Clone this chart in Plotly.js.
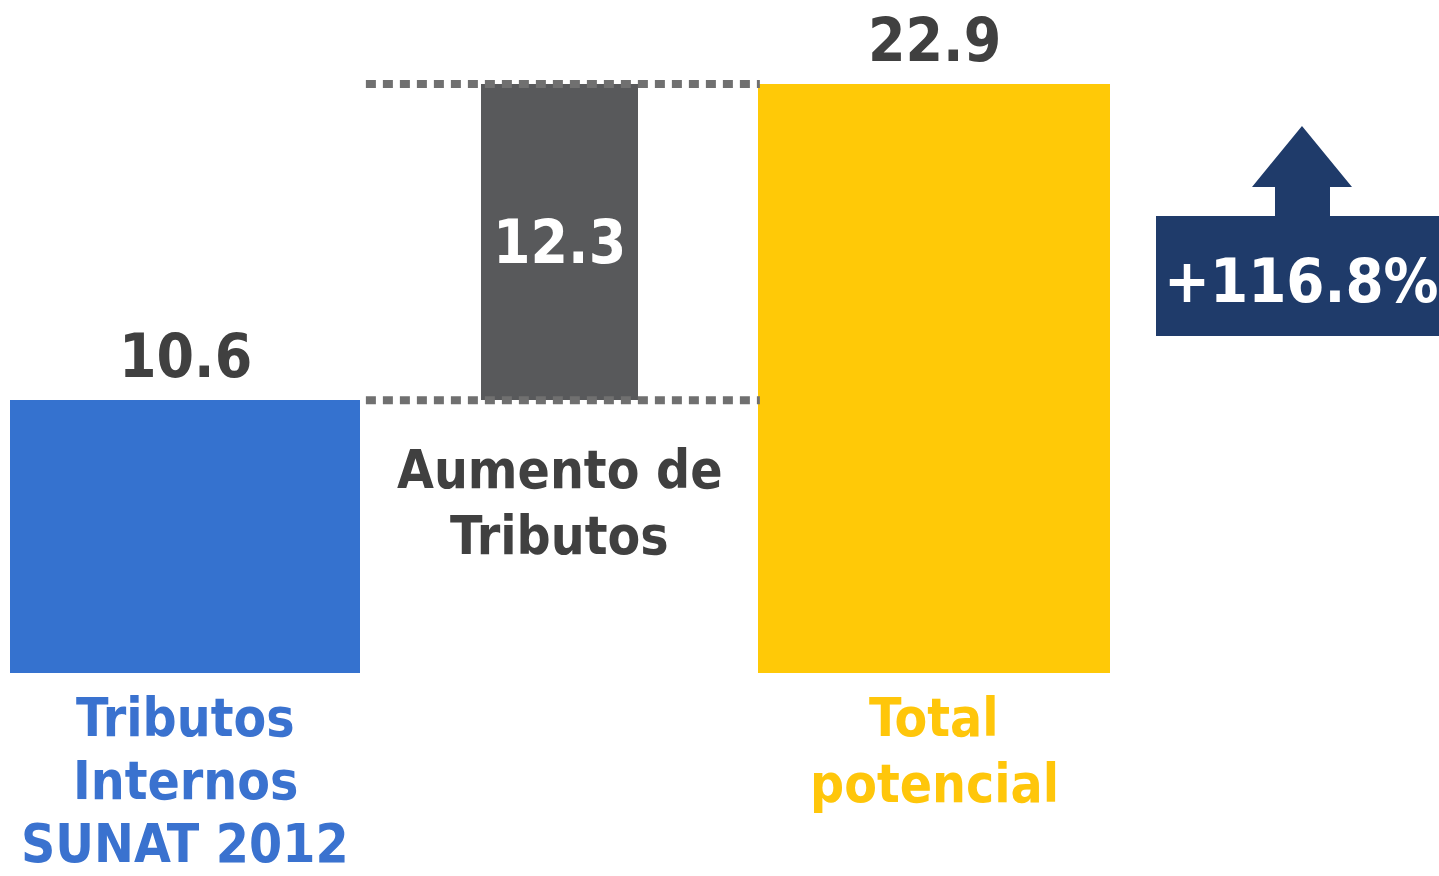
<!DOCTYPE html>
<html>
<head>
<meta charset="utf-8">
<script src="https://cdn.plot.ly/plotly-3.0.1.min.js"></script>
<style>
  html, body { margin: 0; padding: 0; background: #ffffff; }
  #chart { width: 1439px; height: 876px; }
</style>
</head>
<body>
<div id="chart"></div>
<script>
// ---- data ----
const categories = ["Tributos Internos SUNAT 2012", "Aumento de Tributos", "Total potencial"];
const labelLines = [["Tributos", "Internos", "SUNAT 2012"], ["Aumento de", "Tributos"], ["Total", "potencial"]];
const values = [10.6, 12.3, 22.9];
const bases = [0, values[0], 0];
const valueLabels = ["10.6", "12.3", "22.9"];
const changeLabel = "+116.8%";

// ---- styles ----
const FONT = '"DejaVu Sans Condensed", "Liberation Sans Narrow", "Arial Narrow", sans-serif';
const barColors = ["#3572cf", "#58595b", "#ffc907"];
const barWidths = [0.935, 0.42, 0.94];
const labelColors = ["#3a72cf", "#404040", "#ffc60a"];
const valueColors = ["#404040", "#ffffff", "#404040"];
const NAVY = "#1f3b6a";

const trace = {
  type: "bar",
  x: categories,
  y: values,
  base: bases,
  width: barWidths,
  marker: { color: barColors, line: { width: 0 } },
  hoverinfo: "skip",
  cliponaxis: false
};

const annotations = [];
// value labels
values.forEach((v, i) => {
  const inside = i === 1;
  annotations.push({
    x: i, y: inside ? bases[i] + v / 2 : bases[i] + v,
    xref: "x", yref: "y",
    text: valueLabels[i],
    showarrow: false,
    yanchor: "middle", xanchor: "center",
    yshift: inside ? 0 : 44,
    font: { family: FONT, size: 60, color: valueColors[i], weight: "bold" }
  });
});
// category labels (one annotation per line)
labelLines.forEach((lines, i) => {
  const start = i === 1 ? 69 : 44;
  const pitch = i === 0 ? 63 : 66;
  lines.forEach((ln, j) => {
    annotations.push({
      x: i, y: bases[i], xref: "x", yref: "y",
      text: ln, showarrow: false,
      xanchor: "center", yanchor: "middle",
      yshift: -(start + pitch * j),
      font: { family: FONT, size: 53, color: labelColors[i], weight: "bold" }
    });
  });
});
// change label
annotations.push({
  x: 1301 / 1439, y: 1 - 280 / 876, xref: "paper", yref: "paper",
  text: changeLabel, showarrow: false,
  xanchor: "center", yanchor: "middle",
  font: { family: FONT, size: 61, color: "#ffffff", weight: "bold" }
});

const W = 1439, H = 876;
const px = (x) => (x / W).toFixed(5);
const py = (y) => (1 - y / H).toFixed(5);
const arrowPts = [[1275, 216], [1275, 187], [1252, 187], [1302, 126], [1352, 187], [1330, 187], [1330, 216]];
const arrowPath = "M " + arrowPts.map(p => px(p[0]) + "," + py(p[1])).join(" L ") + " Z";

const dotLine = { color: "#707070", width: 8, dash: "10px,7px" };
const shapes = [
  { type: "line", xref: "x", yref: "y", x0: 0.483, x1: 1.535, y0: bases[1], y1: bases[1], line: dotLine, layer: "above" },
  { type: "line", xref: "x", yref: "y", x0: 0.483, x1: 1.535, y0: bases[1] + values[1], y1: bases[1] + values[1], line: dotLine, layer: "above" },
  { type: "rect", xref: "paper", yref: "paper", x0: 1156 / W, x1: 1.01, y0: 1 - 336 / H, y1: 1 - 216 / H, fillcolor: NAVY, line: { width: 0 }, layer: "below" },
  { type: "path", xref: "paper", yref: "paper", path: arrowPath, fillcolor: NAVY, line: { width: 0 }, layer: "below" }
];

const yTop = values[2];
const pxPerUnit = (673 - 84) / yTop;
const layout = {
  width: W, height: H,
  margin: { l: 0, r: 0, t: 0, b: 0, pad: 0 },
  paper_bgcolor: "#ffffff",
  plot_bgcolor: "rgba(0,0,0,0)",
  showlegend: false,
  bargap: 0,
  xaxis: { type: "category", range: [-185 / 374.5, (W - 185) / 374.5], visible: false, fixedrange: true },
  yaxis: { range: [-(H - 673) / pxPerUnit, yTop + 84 / pxPerUnit], visible: false, fixedrange: true, zeroline: false, showgrid: false },
  annotations: annotations,
  shapes: shapes
};

Plotly.newPlot("chart", [trace], layout, { displayModeBar: false, staticPlot: true });
</script>
</body>
</html>
